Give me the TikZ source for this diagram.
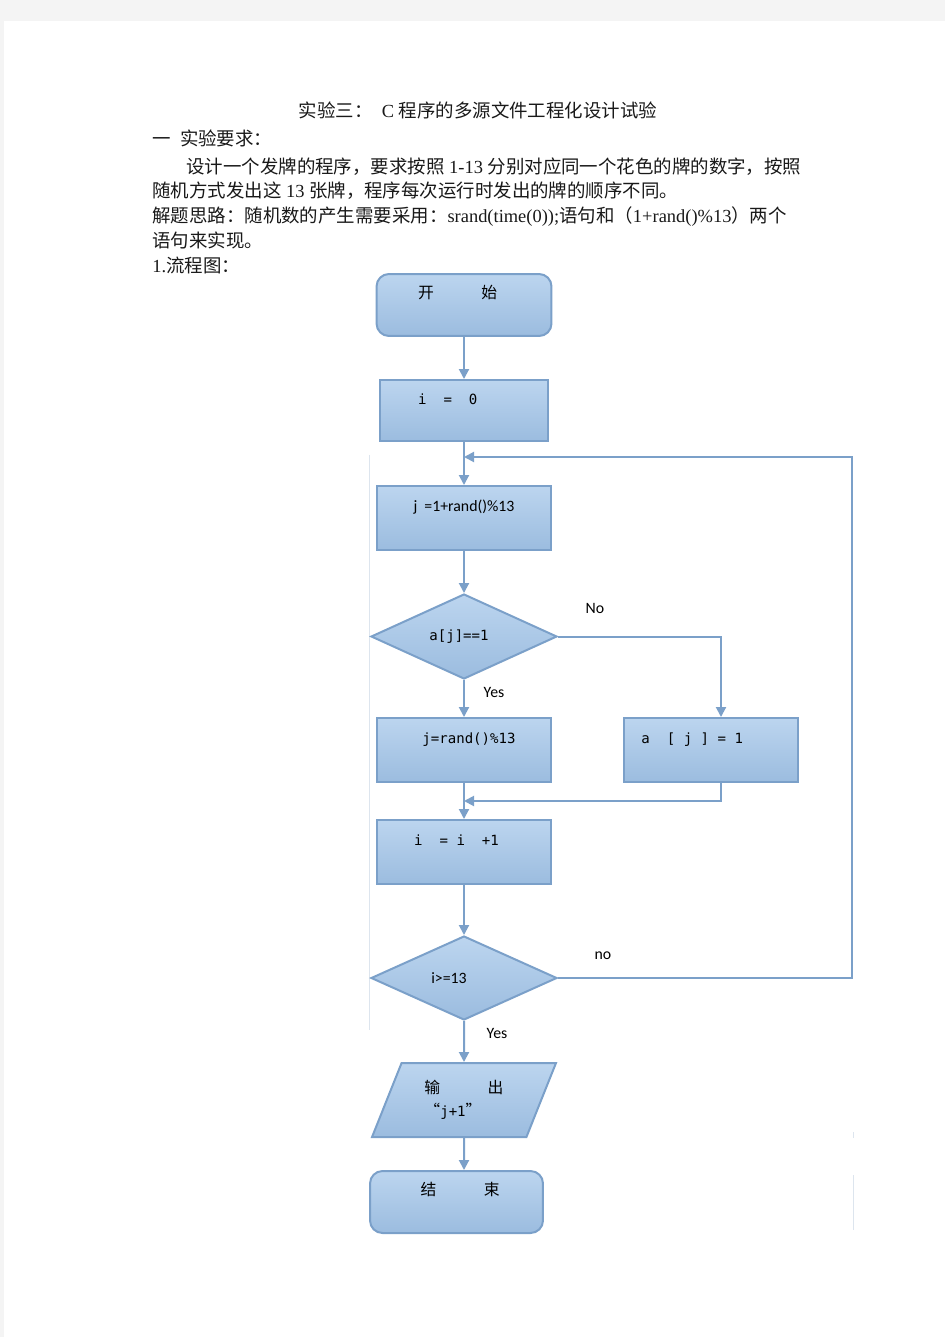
\documentclass[tikz,border=0pt]{standalone}
\usepackage{fontspec}
\setmainfont{Liberation Serif}
\newfontfamily\cjk{Noto Sans CJK SC}
\newfontfamily\boxfont{Carlito}
\newfontfamily\monofont{DejaVu Sans Mono}
\newcommand{\codefont}{\monofont\fontsize{8}{10}\selectfont}
\usetikzlibrary{shapes.geometric, arrows.meta, positioning}
\definecolor{boxtop}{HTML}{BCD5EF}
\definecolor{boxbottom}{HTML}{9BBCDF}
\definecolor{boxline}{HTML}{7BA0C9}
\definecolor{pagegrey}{HTML}{F4F4F4}
\definecolor{faintline}{HTML}{DDE5EE}
\tikzset{
    basenode/.style = {draw=boxline, line width=0.04cm, top color=boxtop, bottom color=boxbottom,
      inner sep=0em, font=\cjk\fontsize{9}{11}\selectfont},
    topnode/.style = {basenode, text height=0.25cm, text depth=0.5cm},
    roundnode/.style = {topnode, rectangle, rounded corners=0.25cm, minimum width=3.5cm, minimum height=1.24cm},
    rectanglenode/.style = {topnode, rectangle, minimum width=3.5cm, minimum height=1.28cm},
    decisionnode/.style = {basenode, diamond, minimum width=3.72cm, minimum height=1.7cm},
    ionode/.style = {basenode, trapezium, trapezium left angle=64.7, trapezium right angle=115.3,
      trapezium stretches=true, minimum width=3.7cm, minimum height=1.48cm, align=left},
    textnode/.style = {draw=none, inner sep=0em, anchor=base west, text=black!90,
      font=\cjk\fontsize{10.5}{12.5}\selectfont},
    labelnode/.style = {draw=none, inner sep=0em, font=\boxfont\fontsize{9}{11}\selectfont},
    flowline/.style = {boxline, line width=0.04cm},
    connect/.style = {flowline, -{Triangle[length=0.2cm, width=0.2cm]}}
}
\begin{document}
\begin{tikzpicture}[x=0.02cm, y=-0.02cm]
    \useasboundingbox (0,0) rectangle (945,1337);
    \fill[pagegrey] (0,0) rectangle (945,1337);
    \fill[white] (4,21) rectangle (945,1337);

    % heading and text
    \node [name=title, textnode, anchor=base] at (478,118)
        {实验三：\hspace{0.5em}{\rmfamily C }程序的多源文件工程化设计试验};
    \node [name=req, textnode] at (152,146) {一\hspace{0.5em}实验要求：};
    \node [name=req1, textnode] at (186,174)
        {设计一个发牌的程序，要求按照{\rmfamily\ 1-13 }分别对应同一个花色的牌的数字，按照};
    \node [name=req2, textnode] at (152,198)
        {随机方式发出这{\rmfamily\ 13 }张牌，程序每次运行时发出的牌的顺序不同。};
    \node [name=idea1, textnode] at (152,223)
        {解题思路：随机数的产生需要采用：{\rmfamily srand(time(0));}语句和（{\rmfamily 1+rand()\%13}）两个};
    \node [name=idea2, textnode] at (152,248) {语句来实现。};
    \node [name=chart, textnode] at (152,273) {{\rmfamily 1.}流程图：};

    % faint frame edges
    \draw[faintline, line width=0.02cm] (369.5,455) -- (369.5,1030);
    \draw[faintline, line width=0.02cm] (853.5,1132) -- (853.5,1138);
    \draw[faintline, line width=0.02cm] (853.5,1175) -- (853.5,1230);

    % flow chart
    \node [name=start, roundnode] at (464,305) {开\hspace{3em}始\hspace*{0.25cm}};
    \node [name=init, rectanglenode, minimum width=3.38cm, minimum height=1.22cm] at (464,410.5)
        {{\codefont i~~=~~0}\hspace*{0.65cm}};
    \node [name=jbox, rectanglenode] at (464,518) {{\boxfont j~~=1+rand()\%13}};
    \node [name=check, decisionnode] at (464,636.5) {{\codefont a[j]==1}\hspace*{0.2cm}};
    \node [name=jrand, rectanglenode] at (464,750) {\hspace*{0.2cm}{\codefont j=rand()\%13}};
    \node [name=aset, rectanglenode, minimum width=3.48cm] at (711,750) {{\codefont a~~[~j~]~=~1}\hspace*{0.75cm}};
    \node [name=inc, rectanglenode] at (464,852) {{\codefont i~~=~i~~+1}\hspace*{0.3cm}};
    \node [name=ifin, decisionnode, minimum height=1.68cm] at (464,978) {{\boxfont i>=13}\hspace*{0.6cm}};
    \node [name=io, ionode] at (464,1100) {输\hspace{3em}出\\[0.08cm]“{\codefont j+1}”};
    \node [name=finish, roundnode, minimum width=3.46cm] at (456.5,1202) {\hspace*{0.15cm}结\hspace{3em}束};

    \node [name=nolbl, labelnode] at (595,608) {No};
    \node [name=yeslbl, labelnode] at (494,692) {Yes};
    \node [name=nolbl2, labelnode] at (603,956) {no};
    \node [name=yeslbl2, labelnode] at (497,1033) {Yes};

    \coordinate (loop) at (852,457);
    \coordinate (join) at (464,801);

    \draw (start) edge[connect] (init);
    \draw (init) edge[connect] (jbox);
    \draw (jbox) edge[connect] (check);
    \draw (check) edge[connect] (jrand);
    \draw (jrand) edge[connect] (inc);
    \draw (inc) edge[connect] (ifin);
    \draw (ifin) edge[connect] (io);
    \draw[connect] (io) -- (io |- finish.north);

    \draw[connect] (check.east) -| ([xshift=0.2cm]aset.north);
    \draw[connect] ([xshift=0.2cm]aset.south) |- (join);
    \draw[connect] (ifin.east) -| (loop) -- (loop -| init.south);
\end{tikzpicture}
\end{document}
